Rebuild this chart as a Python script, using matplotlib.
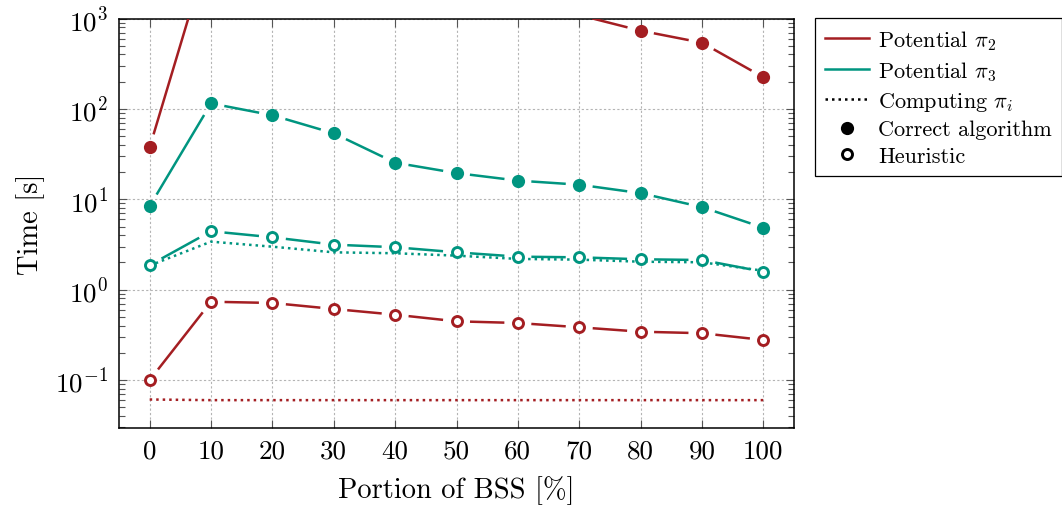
import numpy as np
import matplotlib
matplotlib.use("Agg")
import matplotlib.pyplot as plt
from matplotlib.lines import Line2D

plt.rcParams["font.family"] = ["cmr10", "DejaVu Serif"]
plt.rcParams["mathtext.fontset"] = "cm"
plt.rcParams["axes.formatter.use_mathtext"] = True
plt.rcParams["axes.unicode_minus"] = False

# ---- data ----
bss = [0, 10, 20, 30, 40, 50, 60, 70, 80, 90, 100]

pi2_correct = [37.6, 6900, 5000, 4000, 3000, 2000, 1500, 1090, 733, 540, 224]
pi2_heuristic = [0.100, 0.736, 0.713, 0.612, 0.529, 0.447, 0.428, 0.384, 0.343, 0.330, 0.278]
pi2_computing = [0.061, 0.060, 0.060, 0.060, 0.060, 0.060, 0.060, 0.060, 0.060, 0.060, 0.060]

pi3_correct = [8.4, 115, 85, 53.7, 25.4, 19.5, 16.1, 14.5, 11.7, 8.2, 4.85]
pi3_heuristic = [1.87, 4.43, 3.80, 3.15, 2.95, 2.59, 2.32, 2.28, 2.17, 2.13, 1.58]
pi3_computing = [1.85, 3.40, 2.99, 2.59, 2.53, 2.38, 2.19, 2.15, 2.04, 2.01, 1.62]

x_ticks = [0, 10, 20, 30, 40, 50, 60, 70, 80, 90, 100]

RED = "#A41E22"
TEAL = "#009580"
YMIN, YMAX = 10 ** -1.53, 1e3

W, H, DPI = 1062, 510, 100
fig = plt.figure(figsize=(W / DPI, H / DPI), dpi=DPI)
ax = fig.add_axes([119 / W, 1 - 429 / H, (794 - 119) / W, (429 - 19.5) / H])

ax.set_yscale("log")
ax.set_xlim(-5, 105)
ax.set_ylim(YMIN, YMAX)
ax.set_xticks(x_ticks)
ax.set_xticklabels([str(t) for t in x_ticks])

ax.grid(True, which="major", color="#b4b4b4", linestyle=(0, (2, 2)), linewidth=0.8)
ax.set_axisbelow(True)
ax.tick_params(which="both", direction="in", top=True, right=True, colors="#555555",
               labelcolor="black", labelsize=19.5, width=0.8)
ax.tick_params(which="major", length=6, pad=8)
ax.tick_params(which="minor", length=4)
for s in ax.spines.values():
    s.set_linewidth(1.1)
    s.set_color("black")

ax.set_xlabel("Portion of BSS [%]", fontsize=20.5, labelpad=9)
ax.set_ylabel("Time [s]", fontsize=20.5, labelpad=7)

LW = 1.8
GAP = 13.5  # px cleared around each marker

FILLED = dict(linestyle="none", marker="o", ms=9.5, markeredgewidth=0)
OPEN = dict(linestyle="none", marker="o", ms=7.2, markerfacecolor="white",
            markeredgewidth=2.1)


def gapped_line(xs, ys, color):
    """Draw a polyline whose segments stop short of each data marker."""
    pts = ax.transData.transform(np.column_stack([xs, ys]))
    inv = ax.transData.inverted()
    for p0, p1 in zip(pts[:-1], pts[1:]):
        d = p1 - p0
        L = np.hypot(*d)
        if L <= 2 * GAP:
            continue
        u = d / L
        a = inv.transform(p0 + u * GAP)
        b = inv.transform(p1 - u * GAP)
        ax.plot([a[0], b[0]], [a[1], b[1]], color=color, lw=LW,
                solid_capstyle="butt", zorder=3)


def in_range(v):
    v = np.asarray(v, dtype=float)
    return np.ma.masked_where(v > YMAX, v)


dot_style = (0, (1, 1.6))

for color, corr, heur, comp in [(RED, pi2_correct, pi2_heuristic, pi2_computing),
                                (TEAL, pi3_correct, pi3_heuristic, pi3_computing)]:
    ax.plot(bss, comp, color=color, lw=LW, linestyle=dot_style, zorder=2)
    gapped_line(bss, corr, color)
    gapped_line(bss, heur, color)
    ax.plot(bss, in_range(corr), color=color, zorder=4, **FILLED)
    ax.plot(bss, in_range(heur), markeredgecolor=color, zorder=4, **OPEN)

handles = [
    Line2D([], [], color=RED, lw=LW),
    Line2D([], [], color=TEAL, lw=LW),
    Line2D([], [], color="black", lw=LW, linestyle=dot_style),
    Line2D([], [], color="black", **FILLED),
    Line2D([], [], markeredgecolor="black", **OPEN),
]
labels = [r"Potential $\pi_2$", r"Potential $\pi_3$", r"Computing $\pi_i$",
          "Correct algorithm", "Heuristic"]
leg = fig.legend(handles, labels, loc="upper left",
                 bbox_to_anchor=(815 / W, 1 - 19 / H), bbox_transform=fig.transFigure,
                 borderaxespad=0, fontsize=16, handlelength=2.0, handletextpad=0.4,
                 labelspacing=0.32, borderpad=0.45, fancybox=False, framealpha=1,
                 edgecolor="black")
leg.get_frame().set_linewidth(0.9)

fig.savefig("out.png", dpi=DPI)
